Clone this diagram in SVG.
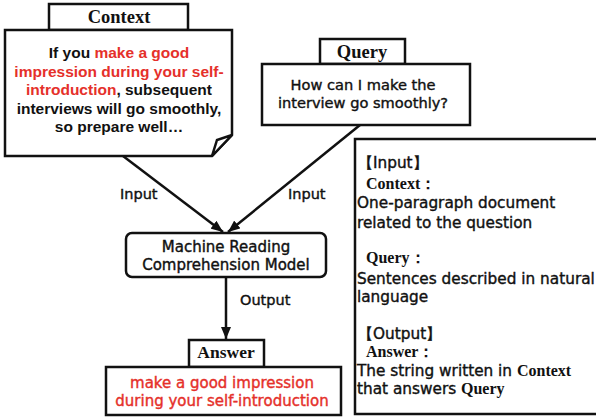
<svg xmlns="http://www.w3.org/2000/svg" width="596" height="417" viewBox="0 0 596 417">
<defs>
<style>
.box{fill:#fff;stroke:#111;stroke-width:2.5;stroke-linejoin:miter}
.ln{stroke:#111;stroke-width:2.5;fill:none}
.tab{font-family:"Liberation Serif",serif;font-weight:bold;font-size:18.5px;fill:#111;text-anchor:middle}
.b{font-family:"Liberation Sans",Arial,sans-serif;font-weight:bold;font-size:15.5px;fill:#111;text-anchor:middle}
.t{font-family:"DejaVu Sans",sans-serif;font-size:15px;fill:#111;stroke:#111;stroke-width:0.4;text-anchor:middle}
.l{font-family:"DejaVu Sans",sans-serif;font-size:15.3px;fill:#111;stroke:#111;stroke-width:0.4}
.s{font-family:"Liberation Serif",serif;font-weight:bold;font-size:16px;fill:#111;stroke:none}
.red{fill:#e5302a;stroke:#e5302a}
.b .red,.b.red{stroke:none}
</style>
<marker id="ah" markerWidth="12" markerHeight="10" refX="12" refY="5" orient="auto" markerUnits="userSpaceOnUse">
<path d="M0,0 L12,5 L0,10 Z" fill="#111"/>
</marker>
</defs>
<g id="connectors">
<line class="ln" x1="123" y1="156" x2="223" y2="232" marker-end="url(#ah)"/>
<line class="ln" x1="360" y1="125" x2="228" y2="232" marker-end="url(#ah)"/>
<line class="ln" x1="226" y1="277" x2="226" y2="339" marker-end="url(#ah)"/>
<text class="l" x="120" y="199" style="font-size:14.5px">Input</text>
<text class="l" x="288" y="199" style="font-size:14.5px">Input</text>
<text class="l" x="240" y="305" style="font-size:14.5px">Output</text>
</g>
<g id="context">
<rect class="box" x="49" y="4" width="139" height="26"/>
<text class="tab" x="119" y="23">Context</text>
<path class="box" d="M5,30 H232 V135 L212,156 H5 Z"/>
<path class="box" d="M212,156 L217,140 L232,135 Z"/>
<text class="b" x="119" y="58">If you <tspan class="red">make a good</tspan></text>
<text class="b red" x="119" y="77">impression during your self-</text>
<text class="b" x="119" y="95"><tspan class="red">introduction</tspan>, subsequent</text>
<text class="b" x="119" y="114">interviews will go smoothly,</text>
<text class="b" x="119" y="132">so prepare well…</text>
</g>
<g id="query">
<rect class="box" x="320" y="39" width="85" height="25"/>
<text class="tab" x="362" y="58">Query</text>
<rect class="box" x="262" y="64" width="208" height="61"/>
<text class="t" x="363" y="90" style="font-size:14.6px">How can I make the</text>
<text class="t" x="363" y="108" style="font-size:14.6px">interview go smoothly?</text>
</g>
<g id="model">
<rect class="box" x="126" y="233" width="200" height="44" rx="6"/>
<text class="t" x="226" y="252">Machine Reading</text>
<text class="t" x="226" y="270">Comprehension Model</text>
</g>
<g id="answer">
<rect class="box" x="189" y="340" width="75" height="27"/>
<text class="tab" x="226" y="358" style="font-size:17.5px">Answer</text>
<rect class="box" x="106" y="367" width="235" height="48"/>
<text class="t red" x="222" y="388">make a good impression</text>
<text class="t red" x="222" y="406">during your self-introduction</text>
</g>
<g id="info">
<rect class="box" x="355" y="139" width="245" height="275"/>
<text class="l" x="358" y="168">【Input】</text>
<text class="s" x="366" y="189">Context：</text>
<text class="l" x="357" y="208">One-paragraph document</text>
<text class="l" x="357" y="228">related to the question</text>
<text class="s" x="366" y="263">Query：</text>
<text class="l" x="357" y="284">Sentences described in natural</text>
<text class="l" x="357" y="302">language</text>
<text class="l" x="358" y="339">【Output】</text>
<text class="s" x="366" y="357">Answer：</text>
<text class="l" x="357" y="376">The string  written in <tspan class="s">Context</tspan></text>
<text class="l" x="357" y="394">that answers <tspan class="s">Query</tspan></text>
</g>
</svg>
